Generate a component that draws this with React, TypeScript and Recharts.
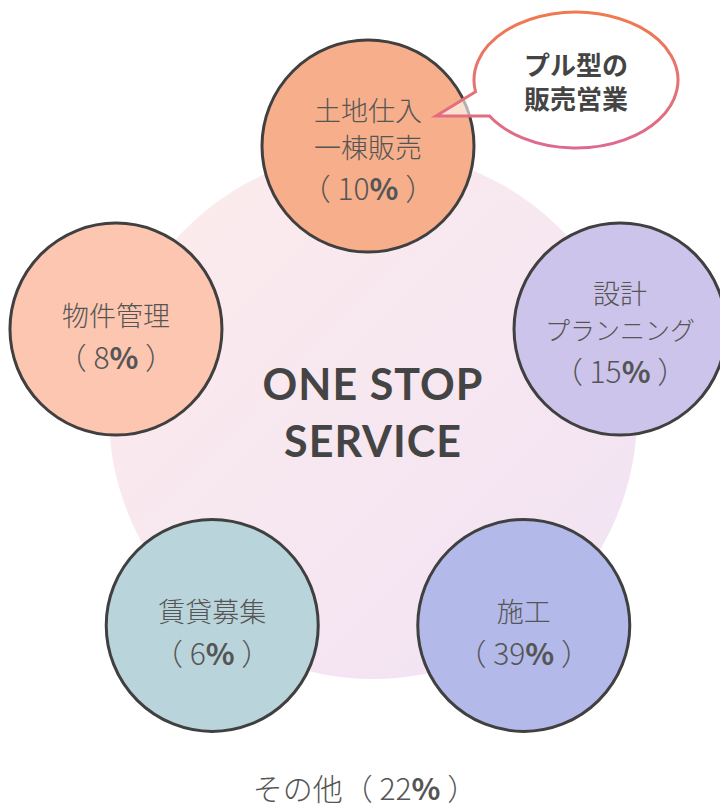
import React from 'react';
import { PieChart, Pie, Cell, RadarChart, Radar, PolarAngleAxis, PolarRadiusAxis } from 'recharts';

// service circles, clockwise from the top
const serviceLines = [['土地仕入', '一棟販売'], ['設計', 'プランニング'], ['施工'], ['賃貸募集'], ['物件管理']];
const serviceShares = [10, 15, 39, 6, 8];

const centerLines = ['ONE STOP', 'SERVICE'];
const centerData = [{ name: 'ONE STOP SERVICE', value: 100 }];

const otherLabel = 'その他';
const otherShare = 22;

const calloutLines = ['プル型の', '販売営業'];
const calloutIndex = 0;

const CIRCLE_COLORS = ['#f6ae8b', '#cdc4eb', '#b3b9e9', '#b9d4da', '#fcc6b1'];
const TEXT = '#555555';
const JP_FONT = '"Noto Sans CJK JP", "Noto Sans", sans-serif';
const W = 720;
const H = 811;
const CX = 368;
const CY = 411;
const CIRCLE_R = 106;

const rows = serviceLines.map((lines, i) => ({ name: lines.join(''), share: serviceShares[i], ring: 1 }));

const renderCallout = (cx: number, cy: number) => {
  // bubble anchored to the circle it points at
  const ex = cx + 208;
  const ey = cy - 66;
  const rx = 102;
  const ry = 68;
  const a1 = (170 * Math.PI) / 180;
  const a2 = (148 * Math.PI) / 180;
  const ux = ex + rx * Math.cos(a1);
  const uy = ey + ry * Math.sin(a1);
  const lx = ex + rx * Math.cos(a2);
  const ly = ey + ry * Math.sin(a2);
  const tx = cx + 68;
  const ty = cy - 30;
  const d = `M ${ux} ${uy} L ${tx} ${ty} L ${lx} ${ly} A ${rx} ${ry} 0 1 0 ${ux} ${uy} Z`;
  return (
    <g>
      <path d={d} fill="#ffffff" fillOpacity={0.6} stroke="url(#bubbleStroke)" strokeWidth={3} strokeLinejoin="miter" />
      {calloutLines.map((t, i) => (
        <text
          key={t}
          x={ex}
          y={ey + (i === 0 ? -17 : 17)}
          textAnchor="middle"
          dominantBaseline="central"
          fontFamily={JP_FONT}
          fontWeight={700}
          fontSize={26}
          fill="#444444"
        >
          {t}
        </text>
      ))}
    </g>
  );
};

const renderServiceCircle = (props: any) => {
  const { cx, cy, index } = props;
  if (cx == null || cy == null) return <g key={`svc-${index}`} />;
  const lines = serviceLines[index];
  const offsets = lines.length === 2 ? [-37, 0, 41] : [-15, 27];
  return (
    <g key={`svc-${index}`}>
      <circle cx={cx} cy={cy} r={CIRCLE_R} fill={CIRCLE_COLORS[index]} stroke="#404040" strokeWidth={3} />
      {lines.map((t, i) => (
        <text
          key={t}
          x={cx}
          y={cy + offsets[i]}
          textAnchor="middle"
          dominantBaseline="central"
          fontFamily={JP_FONT}
          fontWeight={300}
          fontSize={t.length > 4 ? 25 : 27}
          fill={TEXT}
        >
          {t}
        </text>
      ))}
      <text
        x={cx}
        y={cy + offsets[lines.length]}
        textAnchor="middle"
        dominantBaseline="central"
        fontFamily={JP_FONT}
        fontWeight={300}
        fontSize={30}
        fill={TEXT}
      >
        {'（ '}{serviceShares[index]}<tspan fontWeight={700}>%</tspan>{' ）'}
      </text>
      {index === calloutIndex && renderCallout(cx, cy)}
    </g>
  );
};

const renderCenterText = (props: any) => {
  const { cx, cy } = props;
  return (
    <g>
      {centerLines.map((t, i) => (
        <text
          key={t}
          x={cx}
          y={cy + (i === 0 ? -32 : 25)}
          textAnchor="middle"
          dominantBaseline="central"
          fontFamily="Lato, sans-serif"
          fontWeight={700}
          fontSize={43}
          letterSpacing={1}
          fill="#444444"
        >
          {t}
        </text>
      ))}
    </g>
  );
};

export default function App() {
  return (
    <div style={{ position: 'absolute', left: 0, top: 0, width: W, height: H, background: '#ffffff', overflow: 'hidden' }}>
      <svg width={0} height={0} style={{ position: 'absolute' }}>
        <defs>
          <linearGradient id="bigFill" x1="0" y1="0" x2="1" y2="1">
            <stop offset="0%" stopColor="#fdeceb" />
            <stop offset="100%" stopColor="#f1e2f5" />
          </linearGradient>
          <linearGradient id="bubbleStroke" x1="0" y1="0" x2="0" y2="1">
            <stop offset="0%" stopColor="#f07a4e" />
            <stop offset="100%" stopColor="#dc6a90" />
          </linearGradient>
        </defs>
      </svg>

      <div style={{ position: 'absolute', left: 0, top: 0 }}>
        <PieChart width={W} height={H}>
          <Pie
            data={centerData}
            dataKey="value"
            nameKey="name"
            cx={CX}
            cy={CY - 1}
            innerRadius={0}
            outerRadius={264}
            startAngle={90}
            endAngle={-270}
            stroke="none"
            labelLine={false}
            label={renderCenterText}
            isAnimationActive={false}
          >
            {centerData.map((d) => (
              <Cell key={d.name} fill="url(#bigFill)" />
            ))}
          </Pie>
        </PieChart>
      </div>

      <div style={{ position: 'absolute', left: 0, top: 0 }}>
        <RadarChart width={W} height={H} data={rows} cx={CX} cy={CY} outerRadius={265} margin={{ top: 0, right: 0, bottom: 0, left: 0 }}>
          <PolarAngleAxis dataKey="name" tick={false} axisLine={false} />
          <PolarRadiusAxis domain={[0, 1]} tick={false} axisLine={false} />
          <Radar
            dataKey="ring"
            stroke="none"
            fill="none"
            fillOpacity={0}
            dot={renderServiceCircle}
            isAnimationActive={false}
          />
        </RadarChart>
      </div>

      <div
        style={{
          position: 'absolute',
          left: 0,
          top: 770,
          width: W + 10,
          textAlign: 'center',
          fontFamily: JP_FONT,
          fontWeight: 300,
          fontSize: 30,
          color: TEXT,
          lineHeight: '34px',
          whiteSpace: 'nowrap',
        }}
      >
        {otherLabel}（ {otherShare}<span style={{ fontWeight: 700 }}>%</span> ）
      </div>
    </div>
  );
}
